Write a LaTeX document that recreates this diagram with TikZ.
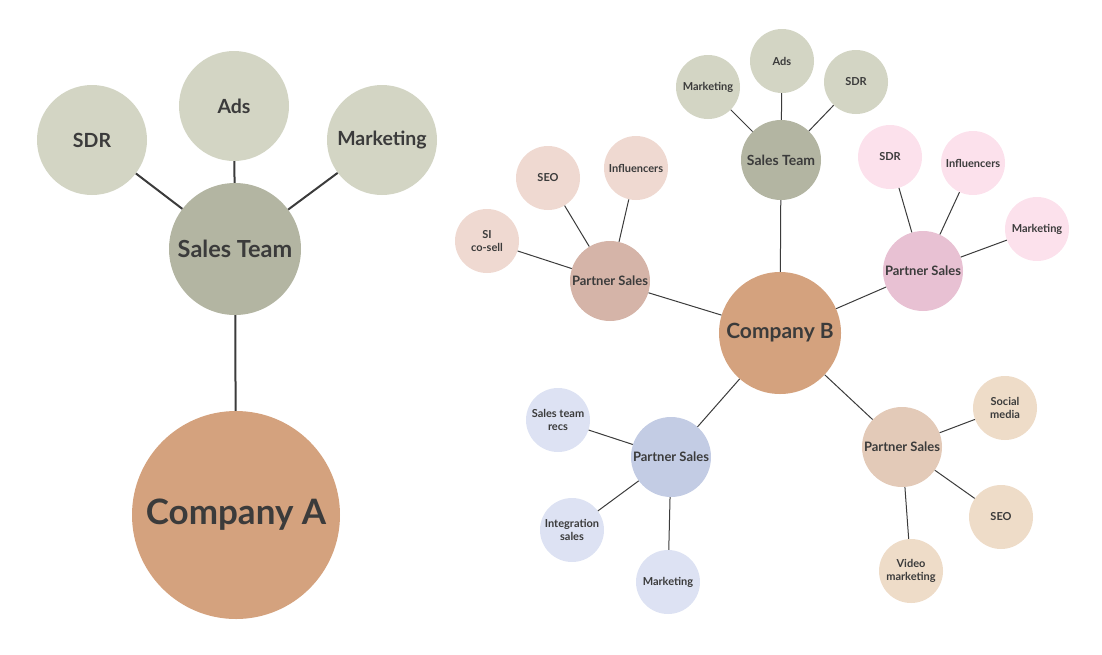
\documentclass[tikz,border=0pt]{standalone}
\usepackage{fontspec}
\setmainfont{Lato}
\usepackage{tikz}
\usetikzlibrary{positioning}

\definecolor{sage}{HTML}{D3D5C4}
\definecolor{sagedark}{HTML}{B3B5A2}
\definecolor{company}{HTML}{D4A27E}
\definecolor{rosedark}{HTML}{D5B4A8}
\definecolor{roselight}{HTML}{EFD9D1}
\definecolor{pinkdark}{HTML}{E8C1D3}
\definecolor{pinklight}{HTML}{FCE1EC}
\definecolor{bluedark}{HTML}{C3CCE4}
\definecolor{bluelight}{HTML}{DDE2F3}
\definecolor{tandark}{HTML}{E3CAB8}
\definecolor{tanlight}{HTML}{EEDCC8}
\definecolor{ink}{HTML}{3B3B3B}

\begin{document}
\begin{tikzpicture}[x=1pt, y=-1pt,
    bubble/.style={circle, inner sep=0pt, text=ink, font=\bfseries, align=center},
    big/.style={bubble, minimum size=110pt, font=\bfseries\fontsize{19.5}{22}\selectfont},
    small/.style={bubble, minimum size=64pt, font=\bfseries\fontsize{11}{12.5}\selectfont},
    hub/.style={bubble, minimum size=80pt, font=\bfseries\fontsize{13}{15}\selectfont},
    link/.style={draw=ink, line width=1pt}]
\useasboundingbox (0,0) rectangle (1102,654);

% Company A
\node[bubble, fill=company, minimum size=208pt, font=\bfseries\fontsize{35}{38}\selectfont] (compA) at (236,515) {Company A};
\node[bubble, fill=sagedark, minimum size=132pt, font=\bfseries\fontsize{23.5}{26}\selectfont] (salesA) at (235,249) {Sales Team};
\node[big, fill=sage] (sdrA) at (92,140) {SDR};
\node[big, fill=sage] (adsA) at (234,106) {Ads};
\node[big, fill=sage] (mktA) at (382,140) {Marketing};

\draw[link, line width=2pt] (compA) -- (salesA);
\draw[link, line width=2pt] (salesA) -- (sdrA);
\draw[link, line width=2pt] (salesA) -- (adsA);
\draw[link, line width=2pt] (salesA) -- (mktA);

% Company B
\node[bubble, fill=company, minimum size=122pt, font=\bfseries\fontsize{21}{24}\selectfont] (compB) at (780,333) {Company B};

% Sales team branch
\node[hub, fill=sagedark, font=\bfseries\fontsize{14}{16}\selectfont] (salesB) at (781,160) {Sales Team};
\node[small, fill=sage] (mktB) at (708,87) {Marketing};
\node[small, fill=sage] (adsB) at (782,61) {Ads};
\node[small, fill=sage] (sdrB) at (856,82) {SDR};

% Partner sales, upper left
\node[hub, fill=rosedark] (partUL) at (610,281) {Partner Sales};
\node[small, fill=roselight] (seoUL) at (548,178) {SEO};
\node[small, fill=roselight] (inflUL) at (636,168) {Influencers};
\node[small, fill=roselight] (siUL) at (487,241) {SI\\co-sell};

% Partner sales, upper right
\node[hub, fill=pinkdark] (partUR) at (923,271) {Partner Sales};
\node[small, fill=pinklight] (sdrUR) at (890,157) {SDR};
\node[small, fill=pinklight] (inflUR) at (973,163) {Influencers};
\node[small, fill=pinklight] (mktUR) at (1037,229) {Marketing};

% Partner sales, lower left
\node[hub, fill=bluedark] (partLL) at (671,457) {Partner Sales};
\node[small, fill=bluelight] (recsLL) at (558,420) {Sales team\\recs};
\node[small, fill=bluelight] (intLL) at (572,530) {Integration\\sales};
\node[small, fill=bluelight] (mktLL) at (668,582) {Marketing};

% Partner sales, lower right
\node[hub, fill=tandark] (partLR) at (902,447) {Partner Sales};
\node[small, fill=tanlight] (socLR) at (1005,408) {Social\\media};
\node[small, fill=tanlight] (seoLR) at (1001,517) {SEO};
\node[small, fill=tanlight] (vidLR) at (911,571) {Video\\marketing};

% Connectors
\draw[link] (compB) -- (salesB);
\draw[link] (compB) -- (partUL);
\draw[link] (compB) -- (partUR);
\draw[link] (compB) -- (partLL);
\draw[link] (compB) -- (partLR);
\draw[link] (salesB) -- (mktB);
\draw[link] (salesB) -- (adsB);
\draw[link] (salesB) -- (sdrB);
\draw[link] (partUL) -- (seoUL);
\draw[link] (partUL) -- (inflUL);
\draw[link] (partUL) -- (siUL);
\draw[link] (partUR) -- (sdrUR);
\draw[link] (partUR) -- (inflUR);
\draw[link] (partUR) -- (mktUR);
\draw[link] (partLL) -- (recsLL);
\draw[link] (partLL) -- (intLL);
\draw[link] (partLL) -- (mktLL);
\draw[link] (partLR) -- (socLR);
\draw[link] (partLR) -- (seoLR);
\draw[link] (partLR) -- (vidLR);
\end{tikzpicture}
\end{document}
